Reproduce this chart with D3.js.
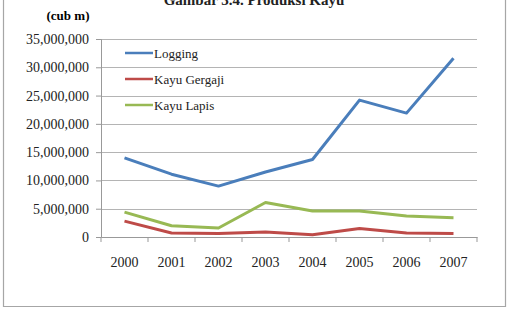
<!DOCTYPE html>
<html>
<head>
<meta charset="utf-8">
<style>
  body { margin: 0; background: #fff; }
  svg { display: block; }
  svg text { font-family: "Liberation Serif", "DejaVu Serif", serif; }
</style>
</head>
<body>
<svg width="510" height="317"></svg>
<script src="https://d3js.org/d3.v7.min.js"></script>
<script>

var years = ["2000", "2001", "2002", "2003", "2004", "2005", "2006", "2007"];
var logging = [14000000, 11100000, 9000000, 11500000, 13700000, 24200000, 21900000, 31600000];
var kayuGergaji = [2800000, 700000, 600000, 900000, 400000, 1500000, 700000, 600000];
var kayuLapis = [4400000, 2000000, 1600000, 6100000, 4600000, 4600000, 3700000, 3400000];
var yTicks = [0, 5000000, 10000000, 15000000, 20000000, 25000000, 30000000, 35000000];

var series = [
  {name: "Logging", values: logging, color: "#4a7ebb"},
  {name: "Kayu Gergaji", values: kayuGergaji, color: "#be4b48"},
  {name: "Kayu Lapis", values: kayuLapis, color: "#98b954"}
];

var svg = d3.select("svg");
var margin = {left: 101, right: 33, top: 39, bottom: 80};
var width = 510 - margin.left - margin.right,
    height = 317 - margin.top - margin.bottom;

// outer frame (top is cut off in the original)
svg.append("path")
    .attr("d", "M3.5,0 V306.5 H505.5 V0")
    .attr("fill", "none")
    .attr("stroke", "#a6a6a6")
    .attr("stroke-width", 1.2);

// title, cut off by the top edge as in the scan
svg.append("text")
    .attr("x", 254).attr("y", 5)
    .attr("text-anchor", "middle")
    .style("font-size", "15px").style("font-weight", "bold")
    .attr("fill", "#222")
    .text("Gambar 3.4. Produksi Kayu");

svg.append("text")
    .attr("x", 68).attr("y", 20)
    .attr("text-anchor", "middle")
    .style("font-size", "13px").style("font-weight", "bold")
    .text("(cub m)");

var g = svg.append("g").attr("transform", "translate(" + margin.left + "," + margin.top + ")");

var x = d3.scaleBand().domain(years).range([0, width]);
var y = d3.scaleLinear().domain([0, 35000000]).range([height, 0]);

// gridlines
g.append("g")
  .selectAll("line")
  .data(yTicks.slice(1))
  .join("line")
    .attr("x1", 0).attr("x2", width)
    .attr("y1", function(d) { return Math.round(y(d)) + 0.5; })
    .attr("y2", function(d) { return Math.round(y(d)) + 0.5; })
    .attr("stroke", "#b4b4b4");

var yAxis = g.append("g")
    .call(d3.axisLeft(y).tickValues(yTicks).tickFormat(d3.format(",")).tickSize(5).tickPadding(7));
yAxis.attr("font-family", null);
yAxis.selectAll("text").style("font-size", "14px").attr("fill", "#222");
yAxis.selectAll("line, path").attr("stroke", "#999");

var xAxis = g.append("g")
    .attr("transform", "translate(0," + height + ")")
    .call(d3.axisBottom(x).tickSize(0).tickPadding(20));
xAxis.attr("font-family", null);
xAxis.selectAll("text").style("font-size", "14px").attr("fill", "#222");
xAxis.select(".domain").attr("stroke", "#999");

// category boundary ticks
g.append("g")
  .selectAll("line")
  .data(years.concat(["end"]))
  .join("line")
    .attr("x1", function(d, i) { return i * x.step(); })
    .attr("x2", function(d, i) { return i * x.step(); })
    .attr("y1", height).attr("y2", height + 5)
    .attr("stroke", "#999");

var line = d3.line()
    .x(function(d, i) { return x(years[i]) + x.bandwidth() / 2; })
    .y(function(d) { return y(d); });

g.selectAll(".series")
  .data(series)
  .join("path")
    .attr("class", "series")
    .attr("d", function(d) { return line(d.values); })
    .attr("fill", "none")
    .attr("stroke", function(d) { return d.color; })
    .attr("stroke-width", 3)
    .attr("stroke-linejoin", "round");

// legend
var legend = svg.append("g").attr("transform", "translate(125,53)");
var item = legend.selectAll("g")
  .data(series)
  .join("g")
    .attr("transform", function(d, i) { return "translate(0," + i * 26 + ")"; });
item.append("line")
    .attr("x1", 0).attr("x2", 28)
    .attr("stroke", function(d) { return d.color; })
    .attr("stroke-width", 2.5);
item.append("text")
    .attr("x", 29).attr("dy", "0.35em")
    .style("font-size", "13px")
    .attr("fill", "#222")
    .text(function(d) { return d.name; });

</script>
</body>
</html>
